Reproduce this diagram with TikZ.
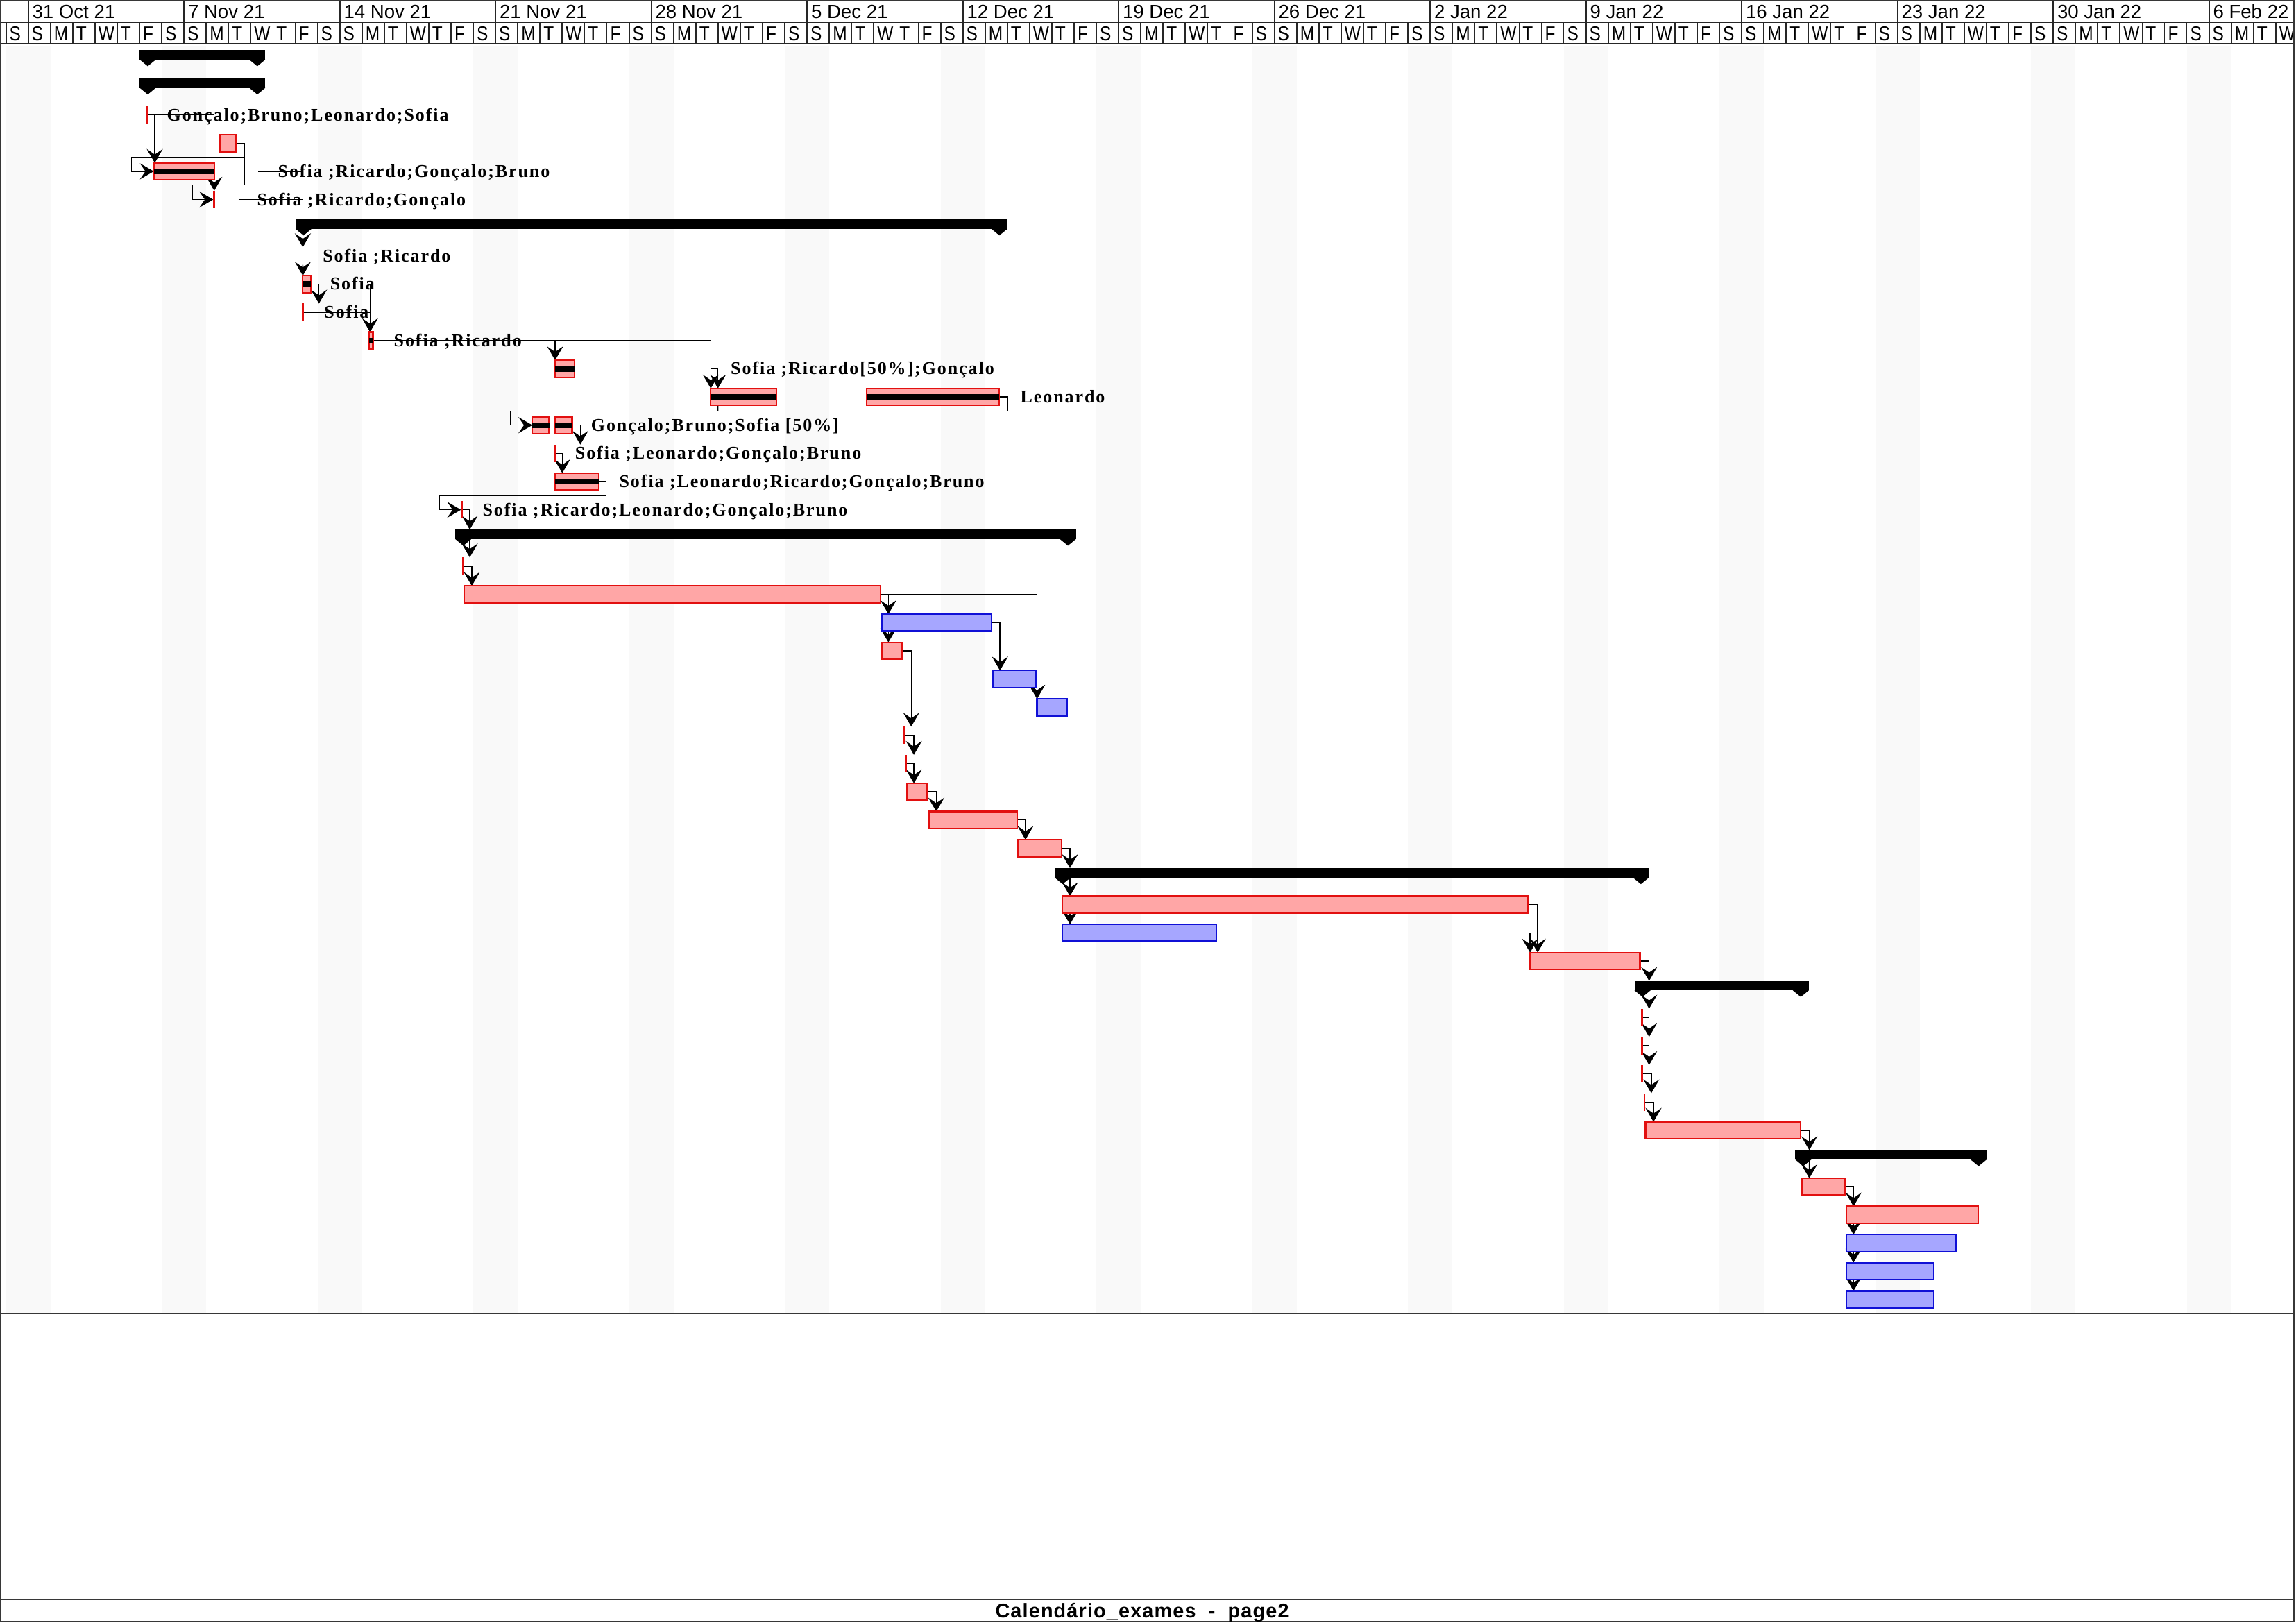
\documentclass[tikz,border=0pt]{standalone}
\usepackage{fontspec}
\usetikzlibrary{arrows.meta,calc}
\newfontfamily\lblfont[LetterSpace=7.4]{Liberation Serif}
\newfontfamily\hdrfont{Liberation Sans}
\newfontfamily\dayfont[FakeStretch=0.85]{Liberation Sans}
\newfontfamily\ftrfont[LetterSpace=4]{Liberation Sans}
\definecolor{rfill}{RGB}{255,166,166}
\definecolor{rline}{RGB}{226,16,16}
\definecolor{bfill}{RGB}{166,166,255}
\definecolor{bline}{RGB}{16,16,214}
\definecolor{wkend}{RGB}{249,249,249}
\definecolor{framec}{RGB}{55,55,55}
\pgfdeclarelayer{bands}
\pgfdeclarelayer{conns}
\pgfsetlayers{bands,conns,main}
\newcommand\U{0.52758}
\newcommand\RY[1]{39.96+19.26*(#1-1)}
\newcommand\gtask[5]{%
  \pgfmathsetmacro\gw{(#4-#3)*\U}%
  \node[#2, minimum width=\gw pt, anchor=west] (#1) at (#3,{\RY{#5}}) {};}
\newcommand\gprog[1]{\fill[black] ($(#1.west)+(0,-2)$) rectangle ($(#1.east)+(0,2)$);}
\newcommand\gms[4]{\node[msbox, fill=#2] (#1) at (#3,{\RY{#4}}) {};}
\newcommand\gsum[4]{%
  \pgfmathsetmacro\gw{(#3-#2)*\U}%
  \node[sumbar, minimum width=\gw pt, anchor=north west] (#1) at (#2,{\RY{#4}-5.7}) {};
  \fill (#1.south west) -- ++(11,0) -- ++(-5.5,4.5) -- cycle;
  \fill (#1.south east) -- ++(-11,0) -- ++(5.5,4.5) -- cycle;}
\begin{document}
\begin{tikzpicture}[x=0.52758pt,y=-0.52758pt,
  redbar/.style={draw=rline, fill=rfill, line width=0.55pt, inner sep=0pt, outer sep=0pt, minimum height=6.12pt},
  bluebar/.style={draw=bline, fill=bfill, line width=0.55pt, inner sep=0pt, outer sep=0pt, minimum height=6.12pt},
  msbox/.style={draw=none, inner sep=0pt, outer sep=0pt, minimum width=0.75pt, minimum height=6.33pt},
  sumbar/.style={fill=black, draw=none, inner sep=0pt, outer sep=0pt, minimum height=3.4pt},
  conn/.style={draw=black, line width=0.35pt},
  conarr/.style={conn, -{Stealth[length=5pt,width=5.8pt,inset=2pt]}},
  lbl/.style={anchor=base west, inner sep=0pt, font=\lblfont\bfseries\fontsize{6.5pt}{7.5pt}\selectfont},
  wklbl/.style={anchor=base west, inner sep=0pt, font=\hdrfont\fontsize{6.9pt}{8pt}\selectfont},
  daylbl/.style={anchor=base west, inner sep=0pt, font=\dayfont\fontsize{7.2pt}{8pt}\selectfont},
  hline/.style={draw=black!85, line width=0.45pt}]
\useasboundingbox (0,0) rectangle (1568,1108);
% weekend bands
\begin{pgfonlayer}{bands}
\foreach \k in {0,...,14} \fill[wkend] ({4.08+15.197*7*\k},31.6) rectangle ++(30.39,865.3);
\end{pgfonlayer}
% header
\begin{scope}
\clip (0,0) rectangle (1566.6,1108);
\foreach \k/\t in {0/31 Oct 21,1/7 Nov 21,2/14 Nov 21,3/21 Nov 21,4/28 Nov 21,5/5 Dec 21,6/12 Dec 21,7/19 Dec 21,8/26 Dec 21,9/2 Jan 22,10/9 Jan 22,11/16 Jan 22,12/23 Jan 22,13/30 Jan 22,14/6 Feb 22}{
  \draw[hline] ({4.08+15.197*(1+7*\k)},0) -- ++(0,15);
  \node[wklbl] (W\k) at ({4.08+15.197*(1+7*\k)+2.4},12.6) {\t};
}
\foreach \d in {0,...,102}{
  \pgfmathtruncatemacro\dm{mod(\d,7)}
  \draw[hline] ({4.08+15.197*\d},15) -- ++(0,15);
  \node[daylbl] (D\d) at ({4.08+15.197*\d+2},27.6) {\ifcase\dm S\or S\or M\or T\or W\or T\or F\fi};
}
\end{scope}
\draw[hline] (0.5,15) -- (1566.6,15);
\draw[hline] (0.5,30) -- (1566.6,30);
% frame
\draw[framec, line width=0.6pt] (0.5,0.5) rectangle (1566.6,1107.4);
\draw[framec, line width=0.6pt] (0.5,896.9) -- (1566.6,896.9);
\draw[framec, line width=0.6pt] (0.5,1092.3) -- (1566.6,1092.3);
\node[anchor=base, inner sep=0pt, font=\ftrfont\bfseries\fontsize{7.2pt}{8pt}\selectfont] (foot) at (780,1104.9) {Calendário\_exames\ \ -\ \ page2};
% tasks
\gsum{s1}{95.4}{181.2}{1}
\gsum{s2}{95.4}{181.2}{2}
\gms{m3}{rline}{100.1}{3}
\gtask{t4}{redbar}{150.3}{161.2}{4}
\gtask{t5}{redbar}{105}{146.3}{5}\gprog{t5}
\gms{m6}{rline}{146.3}{6}
\gsum{s7}{201.8}{688}{7}
\node[msbox, fill=bline, minimum width=0.45pt] (m8) at (206.8,{\RY{8}}) {};
\gtask{t9}{redbar}{206.5}{212.1}{9}\gprog{t9}
\gms{m10}{rline}{206.8}{10}
\gtask{t11}{redbar}{252}{254.7}{11}\gprog{t11}
\gtask{t12}{redbar}{379.1}{392.4}{12}\gprog{t12}
\gtask{t13a}{redbar}{485.4}{530.3}{13}\gprog{t13a}
\gtask{t13b}{redbar}{591.8}{682.2}{13}\gprog{t13b}
\gtask{t14a}{redbar}{363.5}{375.1}{14}\gprog{t14a}
\gtask{t14b}{redbar}{379.1}{390.7}{14}\gprog{t14b}
\gms{m15}{rline}{379.1}{15}
\gtask{t16}{redbar}{379.1}{409}{16}\gprog{t16}
\gms{m17}{rline}{315.5}{17}
\gsum{s18}{310.9}{734.8}{18}
\gms{m19}{rline}{316.1}{19}
\gtask{t20}{redbar}{316.9}{601.4}{20}
\gtask{t21}{bluebar}{602}{677.1}{21}
\gtask{t22}{redbar}{602}{616.2}{22}
\gtask{t23}{bluebar}{678.2}{707.5}{23}
\gtask{t24}{bluebar}{708.2}{728.6}{24}
\gms{m25}{rline}{617.6}{25}
\gms{m26}{rline}{618.7}{26}
\gtask{t27}{redbar}{619.4}{633.2}{27}
\gtask{t28}{redbar}{634.7}{694.5}{28}
\gtask{t29}{redbar}{695.2}{724.9}{29}
\gsum{s30}{720.2}{1126.1}{30}
\gtask{t31}{redbar}{725.3}{1043.7}{31}
\gtask{t32}{bluebar}{725.3}{830.8}{32}
\gtask{t33}{redbar}{1044.9}{1119.9}{33}
\gsum{s34}{1116.2}{1235.3}{34}
\gms{m35}{rline}{1121.3}{35}
\gms{m36}{rline}{1121.3}{36}
\gms{m37}{rline}{1121.3}{37}
\node[msbox, fill=rline, minimum width=0.4pt] (m38) at (1123.2,{\RY{38}}) {};
\gtask{t39}{redbar}{1123.7}{1229.5}{39}
\gsum{s40}{1226}{1356.7}{40}
\gtask{t41}{redbar}{1230.4}{1259.7}{41}
\gtask{t42}{redbar}{1260.9}{1351}{42}
\gtask{t43}{bluebar}{1260.9}{1335.6}{43}
\gtask{t44}{bluebar}{1260.9}{1320.8}{44}
\gtask{t45}{bluebar}{1260.9}{1320.8}{45}
% connectors
\begin{pgfonlayer}{conns}
\draw[conarr] (m3.center) -| ($(t5.north west)+(0.7,0)$);
\draw[conarr] (m3.center) -| (m6.north);
\draw[conarr] (t4.east) -| (166.9,107.4) -| (89.8,{\RY{5}}) -- (t5.west);
\draw[conarr] (t4.east) -| (166.9,126.4) -| (131.3,{\RY{6}}) -- (m6.west);
\coordinate (f5) at (176.2,{\RY{5}});
\coordinate (f6) at (163,{\RY{6}});
\draw[conn] (f5) -| ($(s7.north west)+(5,0)$);
\draw[conn] (f6) -- (206.8,{\RY{6}});
\draw[conarr] ($(s7.south west)+(5,0)$) -- (m8.north);
\draw[conarr] (m8.south) -- ($(t9.north west)+(0.3,0)$);
\draw[conarr] (t9.east) -| ($(m10.north)+(11,0)$);
\draw[conarr] (t9.east) -| ($(t11.north west)+(0.7,0)$);
\draw[conn] (m10.center) -- (252.7,{\RY{10}});
\draw[conarr] (t11.east) -| (t12.north west);
\draw[conarr] (t11.east) -| (t13a.north west);
\coordinate (f12) at (485.4,{\RY{12}});
\draw[conarr] (f12) -| ($(t13a.north west)+(4.9,0)$);
\draw[conn] ($(t13a.south west)+(4.9,0)$) -- (490.3,280.7);
\draw[conarr] (t13b.east) -| (688.2,280.7) -| (348.5,{\RY{14}}) -- (t14a.west);
\draw[conarr] (t14b.east) -| ($(m15.north)+(17.2,0)$);
\draw[conarr] (m15.center) -| ($(t16.north west)+(4.9,0)$);
\draw[conarr] (t16.east) -| (414,338.3) -| (300,{\RY{17}}) -- (m17.west);
\draw[conarr] (m17.center) -| ($(s18.north west)+(9.9,0)$);
\draw[conarr] ($(s18.south west)+(9.9,0)$) -- ($(m19.north)+(4.7,0)$);
\draw[conarr] (m19.center) -| ($(t20.north west)+(5.3,0)$);
\draw[conarr] (t20.east) -| ($(t21.north west)+(4.7,0)$);
\draw[conarr] (t20.east) -| ($(t22.north west)+(4.7,0)$);
\draw[conarr] (t20.east) -| (t24.north west);
\draw[conarr] (t21.east) -| ($(t23.north west)+(4.7,0)$);
\draw[conarr] (t22.east) -| ($(m25.north)+(4.7,0)$);
\draw[conarr] (t23.east) -| (t24.north west);
\draw[conarr] (m25.center) -| ($(m26.north)+(5.4,0)$);
\draw[conarr] (m26.center) -| ($(t27.north west)+(4.7,0)$);
\draw[conarr] (t27.east) -| ($(t28.north west)+(4.7,0)$);
\draw[conarr] (t28.east) -| ($(t29.north west)+(5.1,0)$);
\draw[conarr] (t29.east) -| ($(s30.north west)+(10.5,0)$);
\draw[conarr] ($(s30.south west)+(10.5,0)$) -- ($(t31.north west)+(5.4,0)$);
\draw[conarr] ($(s30.south west)+(10.5,0)$) -- ($(t32.north west)+(5.4,0)$);
\draw[conarr] (t31.east) -| ($(t33.north west)+(5.2,0)$);
\draw[conarr] (t32.east) -| (t33.north west);
\draw[conarr] (t33.east) -| ($(s34.north west)+(10,0)$);
\draw[conarr] ($(s34.south west)+(10,0)$) -- ($(m35.north)+(4.9,0)$);
\draw[conarr] (m35.center) -| ($(m36.north)+(4.9,0)$);
\draw[conarr] (m36.center) -| ($(m37.north)+(4.9,0)$);
\draw[conarr] (m37.center) -| ($(m38.north)+(4.5,0)$);
\draw[conarr] (m38.center) -| ($(t39.north west)+(5.5,0)$);
\draw[conarr] (t39.east) -| ($(s40.north west)+(9.6,0)$);
\draw[conarr] ($(s40.south west)+(9.6,0)$) -- ($(t41.north west)+(5.2,0)$);
\foreach \n in {42,...,45} \draw[conarr] (t41.east) -| ($(t\n.north west)+(4.9,0)$);
\end{pgfonlayer}
% labels
\node[lbl] (L3) at (113.7,{\RY{3}+4}) {Gonçalo;Bruno;Leonardo;Sofia};
\node[lbl] (L5) at (189.5,{\RY{5}+4}) {Sofia ;Ricardo;Gonçalo;Bruno};
\node[lbl] (L6) at (175.2,{\RY{6}+4}) {Sofia ;Ricardo;Gonçalo};
\node[lbl] (L8) at (220.1,{\RY{8}+4}) {Sofia ;Ricardo};
\node[lbl] (L9) at (225.1,{\RY{9}+4}) {Sofia};
\node[lbl] (L10) at (221.1,{\RY{10}+4}) {Sofia};
\node[lbl] (L11) at (268.6,{\RY{11}+4}) {Sofia ;Ricardo};
\node[lbl] (L12) at (498.7,{\RY{12}+4}) {Sofia ;Ricardo[50\%];Gonçalo};
\node[lbl] (L13) at (696.5,{\RY{13}+4}) {Leonardo};
\node[lbl] (L14) at (403.3,{\RY{14}+4}) {Gonçalo;Bruno;Sofia [50\%]};
\node[lbl] (L15) at (392.4,{\RY{15}+4}) {Sofia ;Leonardo;Gonçalo;Bruno};
\node[lbl] (L16) at (422.6,{\RY{16}+4}) {Sofia ;Leonardo;Ricardo;Gonçalo;Bruno};
\node[lbl] (L17) at (329.2,{\RY{17}+4}) {Sofia ;Ricardo;Leonardo;Gonçalo;Bruno};
\end{tikzpicture}
\end{document}
